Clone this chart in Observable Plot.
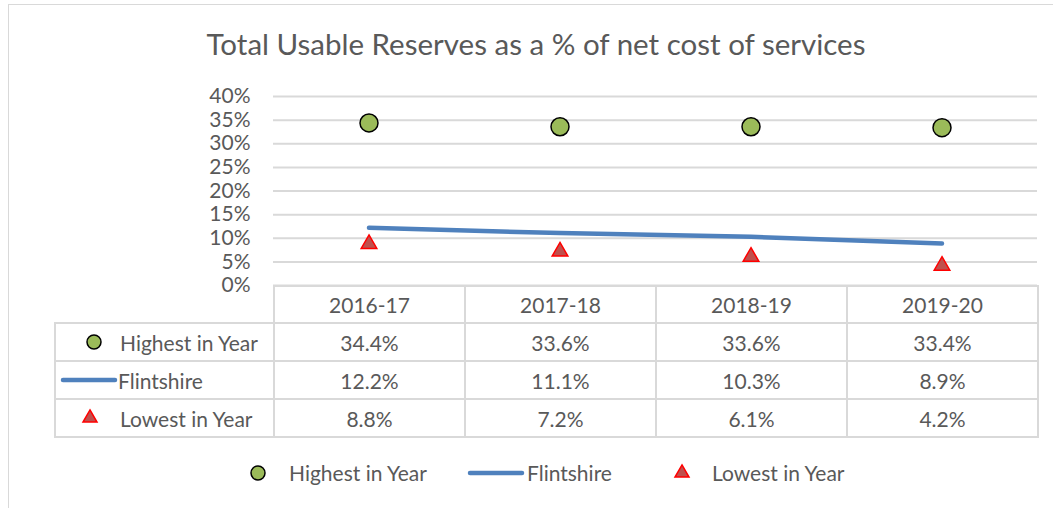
<!DOCTYPE html>
<html><head><meta charset="utf-8">
<script src="https://cdn.jsdelivr.net/npm/d3@7"></script>
<script src="https://cdn.jsdelivr.net/npm/@observablehq/plot@0.6"></script>
<style>
body{margin:0;background:#fff;font-family:Lato,"Open Sans",sans-serif;color:#595959}
#chart{position:relative;width:1053px;height:508px;overflow:hidden;background:#fff}
#frame{position:absolute;left:8px;top:4px;width:1200px;height:700px;border:1px solid #d9d9d9}
#title{position:absolute;left:0;width:1072px;top:26px;text-align:center;font-size:29.5px;white-space:nowrap}
#plot{position:absolute;left:0;top:0}
#tbl{position:absolute;left:54px;top:285px;border-collapse:collapse;table-layout:fixed;font-size:21px;color:#595959}
#tbl td{border:2px solid #d9d9d9;text-align:center;padding:0;white-space:nowrap}
#tbl td.lab{text-align:left;padding-left:64px;position:relative}
#tbl td.blank{border-top:none;border-left:none}
.sw{position:absolute;top:50%;transform:translateY(-50%);line-height:0}
.sw svg{display:block}
#legend{position:absolute;top:459px;left:0;width:1053px;height:28px;font-size:21px;color:#595959}
#legend .it{position:absolute;top:0;height:28px;line-height:28px;white-space:nowrap}
</style>
</head><body>
<div id="chart">
  <div id="frame"></div>
  <div id="title">Total Usable Reserves as a % of net cost of services</div>
  <div id="plot"></div>
  <table id="tbl"></table>
  <div id="legend"></div>
</div>
<script>
// ---- data ----
const years = ["2016-17", "2017-18", "2018-19", "2019-20"];
const highest = [0.344, 0.336, 0.336, 0.334];
const flintshire = [0.122, 0.111, 0.103, 0.089];
const lowest = [0.088, 0.072, 0.061, 0.042];
const seriesNames = ["Highest in Year", "Flintshire", "Lowest in Year"];
const yTicks = [0, 0.05, 0.10, 0.15, 0.20, 0.25, 0.30, 0.35, 0.40];

const colors = {
  highFill: "#9bbb59", highStroke: "#000000",
  line: "#4f81bd",
  lowFill: "#c0504d", lowStroke: "#ff0000",
  grid: "#d9d9d9", text: "#595959"
};

const data = years.map((year, i) => ({year, high: highest[i], flint: flintshire[i], low: lowest[i]}));
const pct = d3.format(".0%");
const pct1 = d3.format(".1%");

const plot = Plot.plot({
  width: 1053,
  height: 300,
  marginTop: 96,
  marginBottom: 15,
  marginLeft: 273,
  marginRight: 16,
  style: {fontFamily: "Lato, 'Open Sans', sans-serif", color: colors.text, background: "transparent"},
  x: {type: "band", domain: years, padding: 0, axis: null},
  y: {domain: [0, 0.4], axis: null},
  marks: [
    Plot.gridY(yTicks, {stroke: colors.grid, strokeOpacity: 1, strokeWidth: 2}),
    Plot.axisY(yTicks, {tickFormat: pct, tickSize: 0, tickPadding: 23, fontSize: 21, fill: colors.text, label: null}),
    Plot.line(data, {x: "year", y: "flint", stroke: colors.line, strokeWidth: 4.5, strokeLinecap: "round", strokeLinejoin: "round"}),
    Plot.dot(data, {x: "year", y: "high", r: 9, fill: colors.highFill, stroke: colors.highStroke, strokeWidth: 1.5}),
    Plot.dot(data, {x: "year", y: "low", symbol: "triangle", r: 5.8, fill: colors.lowFill, stroke: colors.lowStroke, strokeWidth: 1.5})
  ]
});
document.getElementById("plot").appendChild(plot);

// ---- swatches ----
function swatch(kind) {
  if (kind === 0) return `<svg width="22" height="22" viewBox="-11 -11 22 22"><circle r="7" fill="${colors.highFill}" stroke="${colors.highStroke}" stroke-width="1.5"/></svg>`;
  if (kind === 1) return `<svg width="58" height="8" viewBox="0 -4 58 8"><line x1="3" x2="55" y1="0" y2="0" stroke="${colors.line}" stroke-width="4.5" stroke-linecap="round"/></svg>`;
  return `<svg width="20" height="20" viewBox="-10 -10 20 20"><path d="${d3.symbol(d3.symbolTriangle, 85)()}" fill="${colors.lowFill}" stroke="${colors.lowStroke}" stroke-width="1.5"/></svg>`;
}

// ---- data table (built from the x scale) ----
const xs = plot.scale("x");
const bw = xs.bandwidth;
const labW = xs.apply(years[0]) - 54;
const tbl = document.getElementById("tbl");
let html = `<colgroup><col style="width:${labW}px">` + years.map(() => `<col style="width:${bw}px">`).join("") + `</colgroup>`;
html += `<tr style="height:37px"><td class="blank"></td>` + years.map(y => `<td>${y}</td>`).join("") + `</tr>`;
const seriesVals = [highest, flintshire, lowest];
const swLeft = [27, 4, 24];
seriesNames.forEach((name, k) => {
  const pad = k === 1 ? 62 : 64;
  html += `<tr style="height:38px"><td class="lab" style="padding-left:${pad}px"><span class="sw" style="left:${swLeft[k]}px">${swatch(k)}</span>${name}</td>` +
    seriesVals[k].map(v => `<td>${pct1(v)}</td>`).join("") + `</tr>`;
});
tbl.innerHTML = html;

// ---- legend ----
const legend = document.getElementById("legend");
const legItems = [
  {k: 0, sx: 247, sw: 22, tx: 289},
  {k: 1, sx: 467, sw: 58, tx: 527},
  {k: 2, sx: 672, sw: 20, tx: 712}
];
legItems.forEach(({k, sx, sw, tx}) => {
  legend.insertAdjacentHTML("beforeend",
    `<span class="it" style="left:${sx}px;width:${sw}px"><span class="sw" style="left:0">${swatch(k)}</span></span>` +
    `<span class="it" style="left:${tx}px">${seriesNames[k]}</span>`);
});
</script>
</body></html>
